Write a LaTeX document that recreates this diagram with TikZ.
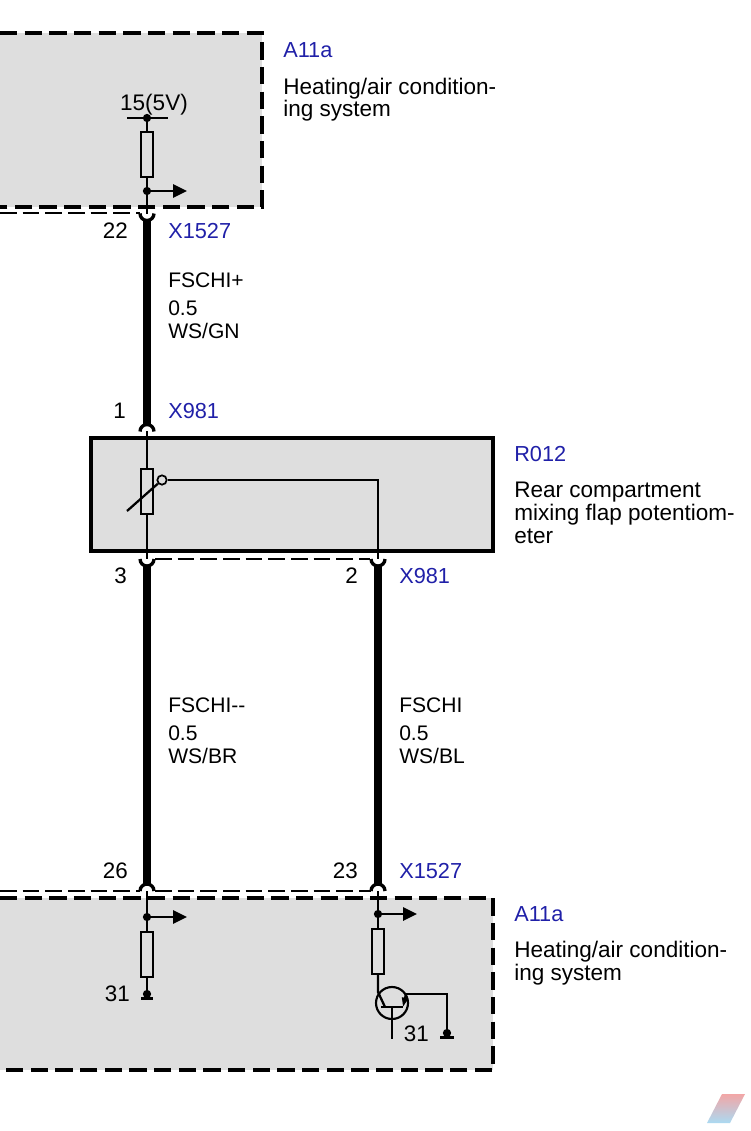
\documentclass[tikz,border=0pt]{standalone}
\usepackage{fontspec}
\setmainfont{Liberation Sans}
\usetikzlibrary{arrows.meta}
\definecolor{boxgray}{HTML}{DEDEDE}
\definecolor{pinblue}{HTML}{2020A8}
\definecolor{logotop}{HTML}{F2A6A6}
\definecolor{logomid}{HTML}{A8B4DC}
\definecolor{logolow}{HTML}{ABDAF2}
\tikzset{
  lbl/.style={anchor=base west, inner sep=0pt, align=left, font=\fontsize{16.9}{17.25}\selectfont},
  lblr/.style={anchor=base east, inner sep=0pt, font=\fontsize{16.8}{17.25}\selectfont},
  wirelbl/.style={lbl, font=\fontsize{15.8}{17.25}\selectfont},
  pinname/.style={lbl, text=pinblue, font=\fontsize{16.3}{17.25}\selectfont},
  resistor/.style={draw, fill=boxgray, line width=1.5pt, minimum width=8.6pt, minimum height=33.5pt, inner sep=0pt},
  dot/.style={circle, fill=black, minimum size=6.2pt, inner sep=0pt},
  wire/.style={line width=1.7pt},
  harness/.style={line width=5.6pt},
  pinarc/.style={line width=2.5pt},
  boxedge/.style={line width=3pt, dash pattern=on 13pt off 5.5pt},
  shield/.style={line width=1.1pt, dash pattern=on 12.5pt off 4.5pt},
  output/.style={wire, -{Triangle[length=10.5pt, width=10pt]}}
}
\begin{document}
\begin{tikzpicture}[x=0.75pt, y=-0.75pt]
\useasboundingbox (0,0) rectangle (750,1131);

% Steuergeraet oben
\fill[boxgray] (0,33) rectangle (262,207);
\draw[boxedge] (0,33) -- (262,33) -- (262,207) -- (0,207);
\node[pinname] (a11top) at (283,58) {A11a};
\node[lbl] (a11toptext) at (283,94) {Heating/air condition-};
\node[lbl] (a11toptextb) at (283,117) {ing system};
\node[lbl, anchor=base] (volt) at (154,110) {15(5V)};
\coordinate (barL) at (127,118);
\coordinate (barR) at (168,118);
\node[dot] (dotvolt) at (147,118) {};
\node[resistor] (rtop) at (147,154.5) {};
\node[dot] (dottop) at (147,191) {};
\coordinate (outtop) at (187,191);
\coordinate (pin22top) at (147,214);
\draw[wire] (barL) -- (barR);
\draw[wire] (dotvolt) -- (rtop);
\draw[wire] (rtop) -- (pin22top);
\draw[output] (dottop) -- (outtop);
\coordinate (shieldtop) at (0,213);
\coordinate (shieldtopb) at (140,213);
\draw[shield] (shieldtop) -- (shieldtopb);

% Stecker X1527 / Leitung FSCHI+
\coordinate (pin22) at (147,221);
\coordinate (pin1) at (147,425);
\draw[pinarc] (140,213.5) arc (180:360:5.25pt);
\draw[harness] (pin22) -- (pin1);
\draw[pinarc] (140,431.5) arc (180:0:5.25pt);
\node[lblr] (n22) at (128,238) {22};
\node[pinname] (x1527a) at (168,238) {X1527};
\node[wirelbl] (fplus) at (168,287) {FSCHI+};
\node[wirelbl] (fplusb) at (168,315) {0.5};
\node[wirelbl] (fplusc) at (168,338) {WS/GN};
\node[lblr] (n1) at (126,418) {1};
\node[pinname] (x981a) at (168,418) {X981};

% Potentiometer
\node[draw, fill=boxgray, line width=3pt, minimum width=301.5pt, minimum height=84.5pt, inner sep=0pt] (R012) at (291.5,494.5) {};
\node[pinname] (r012name) at (514,461) {R012};
\node[lbl] (r012text) at (514,497) {Rear compartment};
\node[lbl] (r012textb) at (514,520) {mixing flap potentiom-};
\node[lbl] (r012textc) at (514,543) {eter};
\coordinate (pin1in) at (147,431);
\coordinate (pin3in) at (147,559);
\coordinate (pin2in) at (378,559);
\coordinate (corner) at (378,480);
\node[resistor] (rpot) at (147,491.5) {};
\node[circle, draw, fill=boxgray, line width=1.3pt, minimum size=7pt, inner sep=0pt] (wiper) at (162,480) {};
\coordinate (slash) at (127,511);
\draw[wire] (pin1in) -- (rpot);
\draw[wire] (rpot) -- (pin3in);
\draw[wire] (slash) -- (wiper);
\draw[wire] (wiper) -- (corner) -- (pin2in);
\coordinate (shieldmid) at (155,559);
\coordinate (shieldmidb) at (370,559);
\draw[shield] (shieldmid) -- (shieldmidb);

% Leitungen FSCHI-- und FSCHI
\coordinate (pin3) at (147,566);
\coordinate (pin26) at (147,884);
\coordinate (pin2) at (378,566);
\coordinate (pin23) at (378,884);
\draw[pinarc] (140,559) arc (180:360:5.25pt);
\draw[pinarc] (371,559) arc (180:360:5.25pt);
\draw[harness] (pin3) -- (pin26);
\draw[harness] (pin2) -- (pin23);
\draw[pinarc] (140,891) arc (180:0:5.25pt);
\draw[pinarc] (371,891) arc (180:0:5.25pt);
\node[lblr] (n3) at (127,583) {3};
\node[lblr] (n2) at (358,583) {2};
\node[pinname] (x981b) at (399,583) {X981};
\node[wirelbl] (fminus) at (168,712) {FSCHI-{}-};
\node[wirelbl] (fminusb) at (168,740) {0.5};
\node[wirelbl] (fminusc) at (168,763) {WS/BR};
\node[wirelbl] (fschi) at (399,712) {FSCHI};
\node[wirelbl] (fschib) at (399,740) {0.5};
\node[wirelbl] (fschic) at (399,763) {WS/BL};
\node[lblr] (n26) at (128,878) {26};
\node[lblr] (n23) at (358,878) {23};
\node[pinname] (x1527b) at (399,878) {X1527};

% Steuergeraet unten
\fill[boxgray] (0,898) rectangle (493,1070);
\draw[boxedge] (0,898) -- (493,898) -- (493,1070) -- (0,1070);
\coordinate (shieldlow) at (0,891);
\coordinate (shieldlowb) at (140,891);
\coordinate (shieldlowc) at (155,891);
\coordinate (shieldlowd) at (371,891);
\draw[shield] (shieldlow) -- (shieldlowb);
\draw[shield] (shieldlowc) -- (shieldlowd);
\node[pinname] (a11low) at (514,921) {A11a};
\node[lbl] (a11lowtext) at (514,957) {Heating/air condition-};
\node[lbl] (a11lowtextb) at (514,980) {ing system};

% Zweig links
\coordinate (pin26in) at (147,891);
\node[dot] (dotlow) at (147,917) {};
\coordinate (outlow) at (187,917);
\node[resistor] (rlow) at (147,954.5) {};
\node[dot] (gnd) at (147,994) {};
\coordinate (gndL) at (141,998.5);
\coordinate (gndR) at (153,998.5);
\draw[wire] (pin26in) -- (rlow);
\draw[wire] (rlow) -- (gnd);
\draw[output] (dotlow) -- (outlow);
\draw[wire] (gndL) -- (gndR);
\node[lblr] (n31a) at (130,1001) {31};

% Zweig rechts mit Transistor
\coordinate (pin23in) at (378,891);
\node[dot] (dotright) at (378,914) {};
\coordinate (outright) at (417,914);
\node[resistor] (rright) at (378,951.5) {};
\node[circle, draw, line width=1.6pt, minimum size=24pt, inner sep=0pt] (trans) at (392,1003) {};
\coordinate (collector) at (378,992);
\coordinate (basein) at (385,1007);
\coordinate (baseL) at (381,1007);
\coordinate (baseR) at (403,1007);
\coordinate (baseM) at (392,1007);
\coordinate (baseend) at (392,1039);
\coordinate (emitter) at (406,994);
\coordinate (turn) at (447,994);
\node[dot] (gndb) at (447,1033) {};
\coordinate (gndbL) at (440,1037.5);
\coordinate (gndbR) at (454,1037.5);
\draw[wire] (pin23in) -- (rright);
\draw[wire] (rright) -- (collector) -- (basein);
\draw[line width=2pt] (baseL) -- (baseR);
\draw[wire] (baseM) -- (baseend);
\draw[wire, -{Triangle[length=7pt, width=4.5pt]}] (emitter) -- (baseR);
\draw[wire] (emitter) -- (turn) -- (gndb);
\draw[wire] (gndbL) -- (gndbR);
\draw[output] (dotright) -- (outright);
\node[lblr] (n31b) at (429,1041) {31};

% Logo unten rechts
\shade[top color=logotop, middle color=logomid, bottom color=logolow] (722,1094) -- (745,1094) -- (730,1123) -- (707,1123) -- cycle;

\end{tikzpicture}
\end{document}
